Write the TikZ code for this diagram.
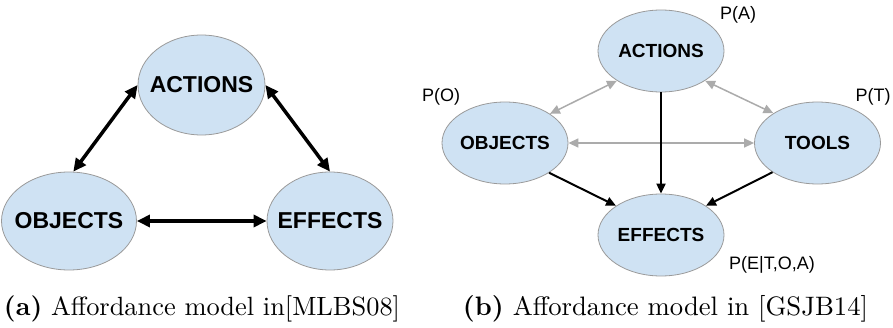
\documentclass[tikz,border=0pt]{standalone}
\usepackage{fontspec}
\usepackage{graphicx}
\newfontfamily\arialfont{Liberation Sans}
\usetikzlibrary{shapes.geometric,arrows.meta}
\definecolor{nodefill}{HTML}{CFE2F3}
\definecolor{nodeline}{HTML}{9A9A9A}
\definecolor{softarrow}{HTML}{ABABAB}
% the label is boxed at zero width so the ellipse keeps its given size
\newcommand{\flatlabel}[1]{\makebox[0pt]{#1}}
\tikzset{
  bubble/.style={ellipse, fill=nodefill, draw=nodeline, line width=0.8pt, inner sep=0pt},
  bigbubble/.style={bubble, font=\arialfont\bfseries\fontsize{23}{23}\selectfont},
  smallbubble/.style={bubble, minimum width=126pt, minimum height=82pt,
    font=\arialfont\bfseries\fontsize{19}{19}\selectfont},
  prob/.style={font=\arialfont\fontsize{18}{18}\selectfont, inner sep=0pt},
  thicklink/.style={line width=3.5pt, {Triangle[length=13pt,width=12pt]}-{Triangle[length=13pt,width=12pt]}},
  darklink/.style={line width=2pt, -{Triangle[length=10pt,width=9pt]}},
  softlink/.style={line width=1.5pt, draw=softarrow,
    {Triangle[length=10pt,width=9pt]}-{Triangle[length=10pt,width=9pt]}},
  caption/.style={inner sep=0pt}
}
\begin{document}
\begin{tikzpicture}[x=1pt,y=1pt]
\useasboundingbox (0,0) rectangle (893,327);

% (a) three-node model
\node[bigbubble, minimum width=127pt, minimum height=100pt] (aact) at (201.5,242) {\flatlabel{ACTIONS}};
\node[bigbubble, minimum width=135pt, minimum height=98pt] (aobj) at (69,106) {\flatlabel{OBJECTS}};
\node[bigbubble, minimum width=126pt, minimum height=98pt] (aeff) at (330,106) {\flatlabel{EFFECTS}};
\draw[thicklink] (aobj.85) -- (aact.180);
\draw[thicklink] (aact.0) -- (aeff.90);
\draw[thicklink] (aobj.0) -- (aeff.180);

% (b) probabilistic model
\node[smallbubble] (bact) at (661,276) {\flatlabel{ACTIONS}};
\node[smallbubble] (bobj) at (505,184) {\flatlabel{OBJECTS}};
\node[smallbubble] (btool) at (817.5,184) {\flatlabel{TOOLS}};
\node[smallbubble] (beff) at (661,92) {\flatlabel{EFFECTS}};
\node[prob] (pa) at (738,312) {P(A)};
\node[prob] (po) at (441,230) {P(O)};
\node[prob] (pt) at (873,230) {P(T)};
\node[prob] (pe) at (772,62) {P(E|T,O,A)};

\draw[softlink] (bobj.33) -- (bact.214);
\draw[softlink] (bact.326) -- (btool.146);
\draw[softlink] (bobj.0) -- (btool.180);
\draw[darklink] (bact.270) -- (beff.90);
\draw[darklink] (bobj.326) -- (beff.147);
\draw[darklink] (btool.213) -- (beff.33);

% sub-captions
\node[caption] (capa) at (202,18) {\resizebox{396pt}{!}{\textbf{(a)} Affordance model in[MLBS08]}};
\node[caption] (capb) at (665.5,18) {\resizebox{405pt}{!}{\textbf{(b)} Affordance model in [GSJB14]}};
\end{tikzpicture}
\end{document}
